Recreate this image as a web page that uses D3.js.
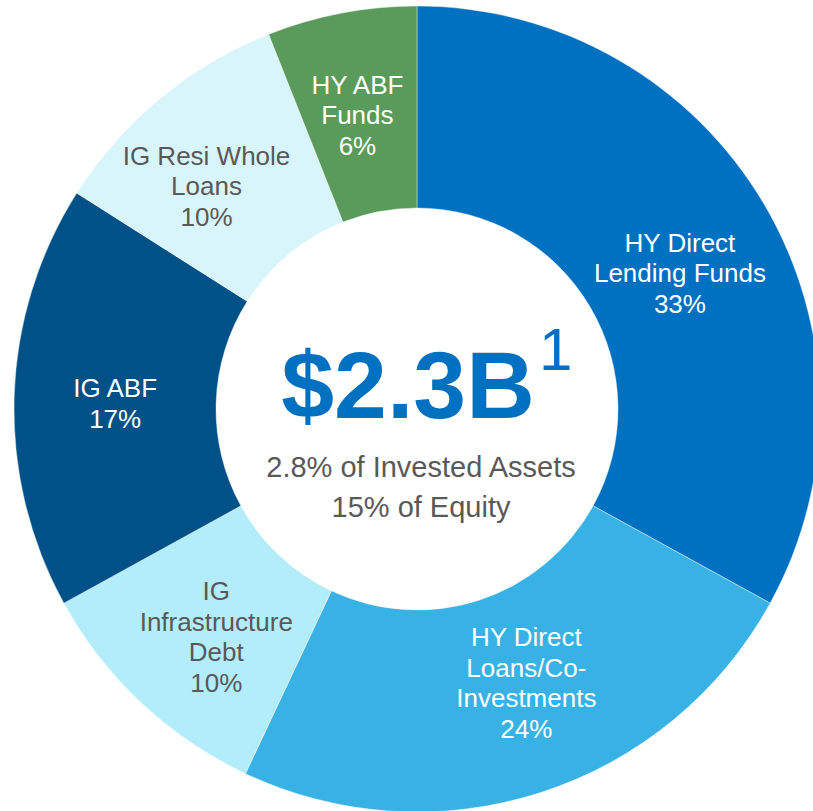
<!DOCTYPE html>
<html>
<head>
<meta charset="utf-8">
<script src="https://cdn.jsdelivr.net/npm/d3@7"></script>
<style>
  html, body { margin: 0; padding: 0; background: #fff; }
  svg { display: block; font-family: "Liberation Sans", Arial, sans-serif; }
</style>
</head>
<body>
<div id="chart"></div>
<script>
// slices, clockwise from 12 o'clock
var categories = [
    "HY Direct Lending Funds",
    "HY Direct Loans/Co-Investments",
    "IG Infrastructure Debt",
    "IG ABF",
    "IG Resi Whole Loans",
    "HY ABF Funds"
]
var shares = [33, 24, 10, 17, 10, 6]
// how each label breaks into lines
var labelLines = [
    ["HY Direct", "Lending Funds"],
    ["HY Direct", "Loans/Co-", "Investments"],
    ["IG", "Infrastructure", "Debt"],
    ["IG ABF"],
    ["IG Resi Whole", "Loans"],
    ["HY ABF", "Funds"]
]
var centerTitle = "$2.3B"
var centerNote = "1"
var centerLines = ["2.8% of Invested Assets", "15% of Equity"]

const colors = {
    'HY Direct Lending Funds': '#0070c0',
    'HY Direct Loans/Co-Investments': '#38b2e4',
    'IG Infrastructure Debt': '#b3edf9',
    'IG ABF': '#005187',
    'IG Resi Whole Loans': '#d9f5fc',
    'HY ABF Funds': '#5a9b5c',
};
// light slices get dark grey text
const darkText = ['IG Infrastructure Debt', 'IG Resi Whole Loans'];
// small hand nudges of the label blocks off the arc midpoint
const nudge = {
    'HY Direct Lending Funds': [3, 18],
    'HY Direct Loans/Co-Investments': [16, -13],
    'IG Infrastructure Debt': [6, 8],
    'IG ABF': [0, 4],
    'IG Resi Whole Loans': [-18, 10],
    'HY ABF Funds': [-3, 3],
};

var width = 813, height = 811
var cx = 417, cy = 409
var outerR = 403, innerR = 201
var labelR = 302
var lineH = 30.5

var data = categories.map(function(c, i) {
    return { name: c, value: shares[i], lines: labelLines[i].concat([shares[i] + "%"]) }
})

var svg = d3.select("#chart")
    .append("svg")
    .attr("width", width)
    .attr("height", height)

var g = svg.append("g")
    .attr("transform", "translate(" + cx + "," + cy + ")")

var pie = d3.pie()
    .value(function(d) { return d.value })
    .sort(null)

var arc = d3.arc()
    .innerRadius(innerR)
    .outerRadius(outerR)

var labelArc = d3.arc()
    .innerRadius(labelR)
    .outerRadius(labelR)

var slices = g.selectAll("g.slice")
    .data(pie(data))
    .enter()
    .append("g")
    .attr("class", "slice")

slices.append("path")
    .attr("d", arc)
    .attr("fill", function(d) { return colors[d.data.name] })
    .attr("stroke", "#fff")
    .attr("stroke-width", 0.4)

// slice labels, centred on the arc midpoint
slices.each(function(d) {
    var c = labelArc.centroid(d)
    var off = nudge[d.data.name] || [0, 0]
    var n = d.data.lines.length
    var t = d3.select(this).append("text")
        .attr("text-anchor", "middle")
        .attr("font-size", "26px")
        .attr("fill", darkText.indexOf(d.data.name) >= 0 ? "#595959" : "#ffffff")
    d.data.lines.forEach(function(line, i) {
        t.append("tspan")
            .attr("x", c[0] + off[0])
            .attr("y", c[1] + off[1] + (i - (n - 1) / 2) * lineH + 9)
            .text(line)
    })
})

// centre block
g.append("text")
    .attr("x", -9)
    .attr("y", 9)
    .attr("text-anchor", "middle")
    .attr("font-size", "95px")
    .attr("font-weight", "bold")
    .attr("fill", "#0070c0")
    .text(centerTitle)

g.append("text")
    .attr("x", 122)
    .attr("y", -39)
    .attr("text-anchor", "start")
    .attr("font-size", "60px")
    .attr("fill", "#0070c0")
    .text(centerNote)

g.selectAll("text.sub")
    .data(centerLines)
    .enter()
    .append("text")
    .attr("class", "sub")
    .attr("x", 4)
    .attr("y", function(d, i) { return 68 + i * 40 })
    .attr("text-anchor", "middle")
    .attr("font-size", "29px")
    .attr("fill", "#595959")
    .text(function(d) { return d })
</script>
</body>
</html>
